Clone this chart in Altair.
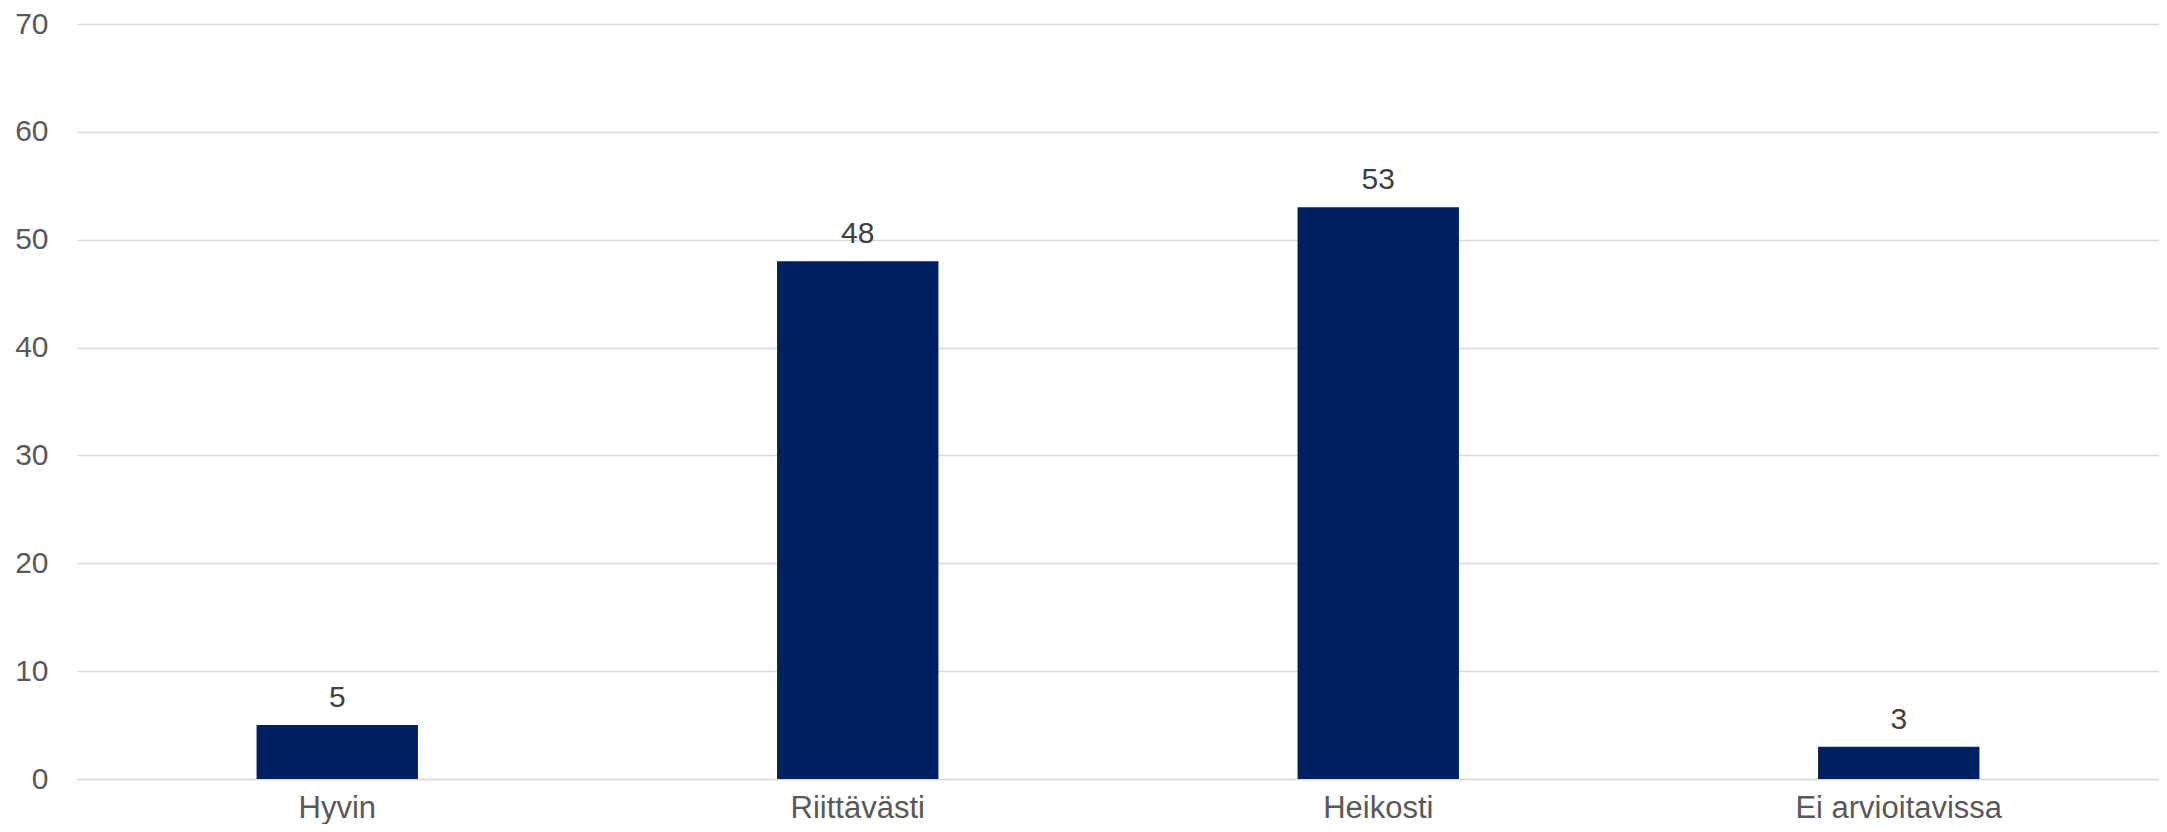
import altair as alt
import pandas as pd

categories = ["Hyvin", "Riittävästi", "Heikosti", "Ei arvioitavissa"]
values = [5, 48, 53, 3]

df = pd.DataFrame({"cat": categories, "val": values})

FONT = "Liberation Sans"

x = alt.X("cat:N", sort=categories, title=None,
          scale=alt.Scale(paddingInner=0.69, paddingOuter=0.345),
          axis=alt.Axis(labelAngle=0, labelFontSize=31, labelColor="#595959",
                        labelFont=FONT, ticks=False, labelPadding=14, labelLimit=1000,
                        domainColor="#d9d9d9", domainWidth=1.5, grid=False))
y = alt.Y("val:Q", title=None,
          scale=alt.Scale(domain=[0, 70], nice=False),
          axis=alt.Axis(values=[0, 10, 20, 30, 40, 50, 60, 70], labelFontSize=30,
                        labelColor="#595959", labelFont=FONT, ticks=False,
                        labelPadding=29, domain=False, gridColor="#d9d9d9",
                        gridWidth=1.5))

bars = alt.Chart(df).mark_bar(color="#00205F").encode(x=x, y=y)
labels = alt.Chart(df).mark_text(fontSize=30, font=FONT, color="#404040",
                                 baseline="alphabetic", dy=-18).encode(
    x=alt.X("cat:N", sort=categories), y="val:Q", text="val:Q")

chart = (bars + labels).properties(
    width=2082, height=755,
    background="white",
    autosize=alt.AutoSizeParams(type="none"),
    padding={"left": 69, "top": 16, "right": 0, "bottom": 45},
).configure_view(strokeWidth=0, stroke="transparent")

chart.save("out.html", embed_options={"renderer": "svg", "actions": False})
